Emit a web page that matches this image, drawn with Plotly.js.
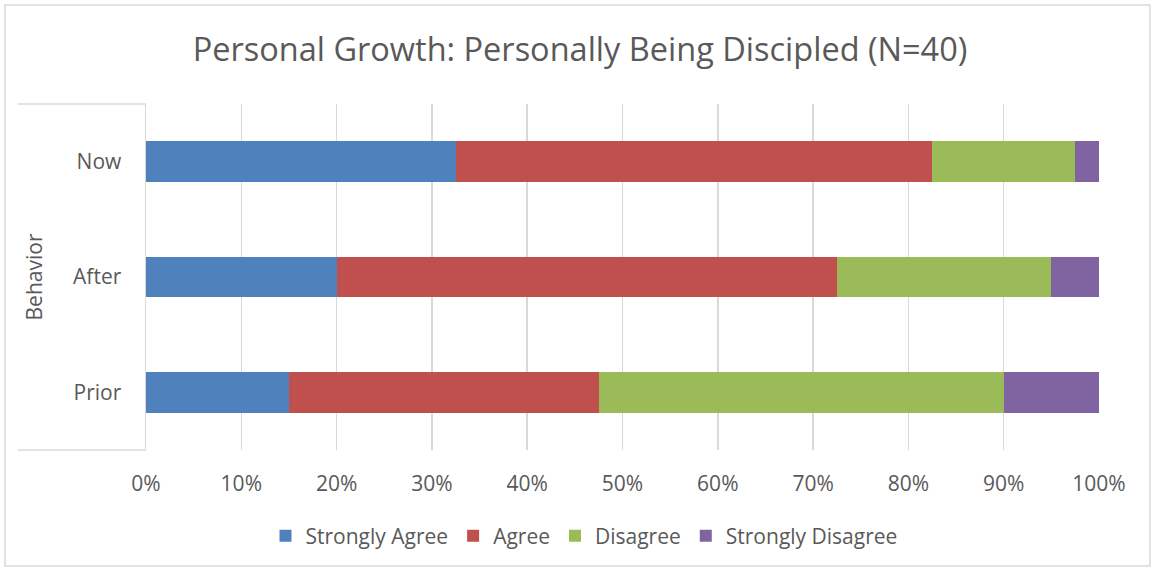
<!DOCTYPE html>
<html>
<head>
<meta charset="utf-8">
<script src="https://cdn.plot.ly/plotly-3.0.1.min.js"></script>
<style>html,body{margin:0;padding:0;background:#fff;}#chart{width:1152px;height:571px;}</style>
</head>
<body>
<div id="chart"></div>
<script>
// Response counts out of N=40, shown as percent of each row
const categories = ['Prior', 'After', 'Now'];
const seriesNames = ['Strongly Agree', 'Agree', 'Disagree', 'Strongly Disagree'];
const stronglyAgree = [6, 8, 13];
const agree = [13, 21, 20];
const disagree = [17, 9, 6];
const stronglyDisagree = [4, 2, 1];
const tickVals = [0, 10, 20, 30, 40, 50, 60, 70, 80, 90, 100];
const tickText = ['0%', '10%', '20%', '30%', '40%', '50%', '60%', '70%', '80%', '90%', '100%'];
const colors = ['#4F81BD', '#C0504D', '#9BBB59', '#8064A2'];

const values = [stronglyAgree, agree, disagree, stronglyDisagree];
const FONT = '"Open Sans", sans-serif';
const TXT = '#595959';
const FS = 21;

const traces = values.map((v, i) => ({
  type: 'bar',
  orientation: 'h',
  name: seriesNames[i],
  y: categories,
  x: v,
  marker: {color: colors[i], line: {width: 0}},
  hoverinfo: 'skip'
}));

// plot area in pixels
const W = 1152, H = 571;
const L = 146, R = 53, T = 104, B = 121;
const pw = W - L - R, ph = H - T - B;
const px = (p) => (p - L) / pw;
const py = (p) => (H - B - p) / ph;

const layout = {
  width: W, height: H,
  margin: {l: L, r: R, t: T, b: B, pad: 0},
  paper_bgcolor: '#ffffff',
  plot_bgcolor: '#ffffff',
  barmode: 'stack',
  barnorm: 'percent',
  bargap: 0.645,
  font: {family: FONT, color: TXT, size: FS},
  title: {
    text: 'Personal Growth: Personally Being Discipled (N=40)',
    font: {family: FONT, size: 32.5, color: TXT},
    xref: 'container', x: 580 / W, xanchor: 'center',
    yref: 'container', y: 1 - 50 / H, yanchor: 'middle'
  },
  xaxis: {
    range: [0, 100],
    tickvals: tickVals,
    ticktext: tickText,
    showgrid: true,
    gridcolor: '#D9D9D9',
    gridwidth: 1.5,
    zeroline: false,
    showline: false,
    ticks: '',
    ticklabelstandoff: 19,
    tickfont: {family: FONT, size: FS, color: TXT},
    fixedrange: true
  },
  yaxis: {
    type: 'category',
    categoryorder: 'array',
    categoryarray: categories,
    showgrid: false,
    zeroline: false,
    showline: true,
    linecolor: '#D9D9D9',
    linewidth: 1.5,
    ticks: '',
    ticklabelstandoff: 19,
    tickfont: {family: FONT, size: FS, color: TXT},
    title: {text: 'Behavior', font: {family: FONT, size: FS, color: TXT}, standoff: 24},
    fixedrange: true
  },
  legend: {
    orientation: 'h',
    x: px(584), xanchor: 'center',
    y: py(536), yanchor: 'middle',
    font: {family: FONT, size: FS, color: TXT},
    itemwidth: 30,
    traceorder: 'normal'
  },
  shapes: [
    {type: 'line', xref: 'paper', yref: 'paper', x0: px(18), x1: 0, y0: 1, y1: 1,
     line: {color: '#D9D9D9', width: 1.5}},
    {type: 'line', xref: 'paper', yref: 'paper', x0: px(18), x1: 0, y0: 0, y1: 0,
     line: {color: '#D9D9D9', width: 1.5}},
    {type: 'rect', xref: 'paper', yref: 'paper', x0: px(5), x1: px(1150), y0: py(566), y1: py(5),
     line: {color: '#D9D9D9', width: 1.5}, fillcolor: 'rgba(0,0,0,0)'}
  ],
  showlegend: true,
  hovermode: false
};

Plotly.newPlot('chart', traces, layout, {displayModeBar: false, staticPlot: true});
</script>
</body>
</html>
